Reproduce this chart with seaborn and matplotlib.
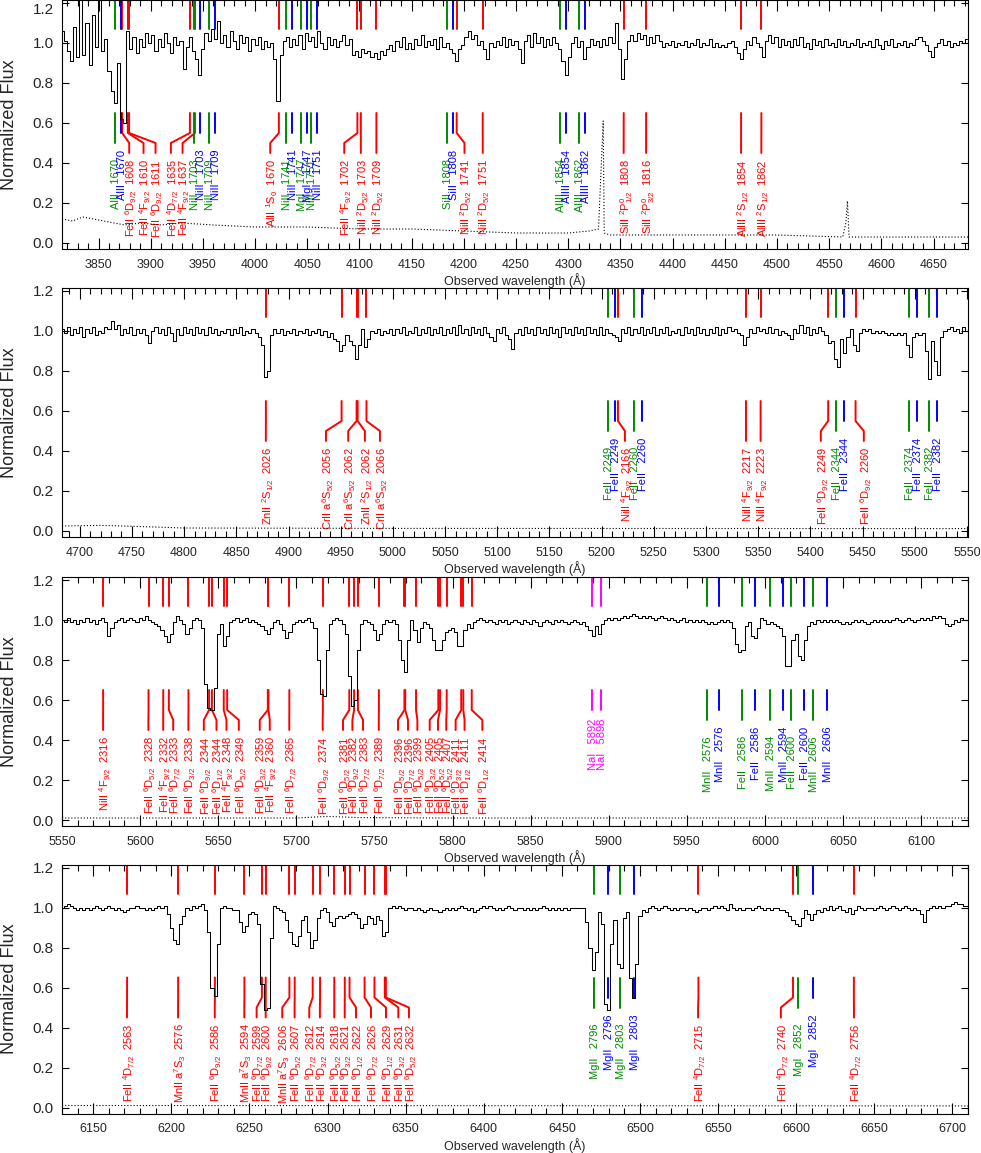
import numpy as np
import matplotlib
matplotlib.use("Agg")
import matplotlib.pyplot as plt
import seaborn as sns
from matplotlib.ticker import MultipleLocator, FormatStrFormatter

# --- Redshifts of the absorbers ---
z_red = 1.4077
z_green = 1.3139
z_blue = 1.3171
z_nai = -0.0004

# --- Spectrum, one flux array per panel (uniform grid from start with given step) ---
flux_a = [
    1.06, 1.01, 0.96, 0.91, 1.08, 0.93, 1.24, 0.94, 1.10, 0.89,
    1.14, 0.98, 1.25, 0.96, 1.02, 0.86, 0.76, 0.70, 0.90, 0.62,
    0.60, 1.06, 0.97, 1.03, 0.95, 1.02, 0.98, 1.05, 1.00, 1.04,
    0.96, 1.02, 0.98, 1.05, 1.00, 0.95, 1.03, 0.99, 1.01, 0.87,
    0.98, 1.03, 0.96, 0.92, 0.84, 0.97, 1.05, 1.01, 1.07, 1.02,
    1.11, 1.00, 1.04, 0.98, 1.06, 1.01, 0.97, 1.04, 1.00, 1.03,
    0.96, 1.02, 0.99, 1.03, 0.97, 1.01, 0.98, 1.00, 0.92, 0.71,
    0.94, 1.01, 1.03, 0.98, 1.02, 0.99, 1.04, 0.97, 1.05, 1.01,
    1.03, 0.98, 1.06, 1.00, 0.97, 1.03, 0.99, 1.02, 0.98, 1.01,
    1.04, 0.99, 1.02, 0.94, 0.96, 0.93, 0.97, 0.95, 0.96, 0.93,
    0.95, 0.92, 0.96, 0.94, 0.97, 0.99, 0.96, 1.01, 0.98, 1.03,
    0.97, 1.00, 0.97, 1.02, 0.99, 1.04, 0.98, 1.01, 0.99, 1.02,
    0.97, 1.03, 0.98, 1.00, 0.97, 0.95, 0.91, 0.97, 0.99, 1.03,
    1.06, 1.02, 1.04, 0.99, 1.01, 0.97, 0.92, 1.00, 0.98, 1.01,
    0.99, 1.03, 0.98, 1.02, 0.99, 1.01, 0.97, 0.90, 1.01, 1.04,
    0.98, 1.05, 1.00, 1.03, 0.98, 1.02, 0.99, 1.03, 1.00, 0.97,
    0.91, 0.84, 0.93, 1.00, 1.03, 0.98, 1.01, 0.92, 0.98, 1.02,
    0.99, 1.01, 0.98, 1.02, 0.99, 1.03, 1.00, 1.10, 0.97, 0.82,
    0.92, 1.01, 1.04, 1.01, 1.05, 1.02, 1.04, 0.99, 1.03, 1.00,
    1.04, 1.01, 0.98, 1.00, 0.99, 1.01, 0.98, 1.00, 0.99, 1.01,
    0.98, 1.00, 0.99, 1.02, 0.98, 1.00, 0.99, 1.02, 0.98, 1.00,
    0.98, 0.99, 0.98, 1.00, 1.01, 0.98, 0.95, 0.92, 0.97, 1.01,
    0.99, 1.03, 1.00, 0.98, 0.93, 1.01, 1.04, 1.00, 1.03, 0.98,
    1.02, 0.99, 1.01, 0.98, 1.02, 0.99, 1.03, 0.98, 1.00, 0.97,
    1.02, 0.99, 1.01, 0.98, 1.02, 0.99, 1.00, 0.98, 1.02, 0.99,
    1.01, 0.98, 1.00, 0.99, 1.02, 0.98, 1.00, 0.99, 1.01, 0.98,
    1.02, 0.99, 0.97, 1.01, 0.99, 1.02, 0.98, 1.00, 0.99, 1.01,
    0.98, 1.00, 0.99, 1.02, 1.03, 1.01, 0.99, 0.96, 0.93, 0.98,
    1.00, 1.02, 0.99, 1.01, 0.98, 1.00, 0.99, 1.01, 1.00, 1.02,
]
flux_b = [
    1.01, 0.99, 1.02, 0.98, 1.01, 0.99, 1.02, 0.97, 1.01, 0.99,
    1.02, 0.98, 1.00, 0.99, 1.02, 1.01, 1.05, 1.01, 1.03, 0.98,
    1.01, 0.99, 1.02, 0.98, 1.01, 0.99, 1.01, 0.98, 0.94, 1.00,
    1.02, 0.99, 1.01, 0.98, 1.02, 0.99, 0.95, 1.01, 0.98, 1.02,
    0.99, 1.01, 0.98, 1.02, 0.99, 1.01, 0.98, 1.02, 0.99, 1.01,
    0.98, 1.00, 0.99, 1.01, 0.98, 1.01, 0.99, 1.02, 0.98, 1.00,
    0.99, 1.01, 0.99, 0.97, 0.93, 0.77, 0.80, 0.98, 1.01, 0.99,
    1.01, 0.98, 1.00, 0.99, 1.01, 0.98, 1.00, 0.99, 1.01, 0.98,
    1.00, 0.99, 1.01, 0.98, 1.00, 0.97, 0.99, 0.96, 0.95, 0.90,
    0.93, 0.98, 0.95, 0.93, 0.86, 0.93, 1.01, 0.92, 0.96, 1.00,
    0.99, 1.01, 0.98, 1.00, 0.99, 1.01, 0.98, 1.01, 0.99, 1.02,
    0.98, 1.00, 0.99, 1.02, 0.98, 1.01, 0.99, 1.02, 0.98, 1.01,
    0.99, 1.02, 0.98, 1.01, 0.99, 1.02, 0.98, 1.03, 0.99, 1.01,
    0.98, 1.02, 0.99, 1.01, 0.98, 1.02, 0.99, 0.97, 0.95, 1.01,
    0.99, 1.02, 0.98, 0.96, 0.91, 0.99, 1.01, 0.98, 1.02, 0.99,
    1.01, 0.98, 1.02, 0.99, 1.01, 0.98, 1.02, 0.99, 1.01, 0.97,
    1.02, 0.99, 1.01, 0.98, 1.02, 0.99, 1.01, 0.98, 1.02, 0.99,
    1.01, 0.98, 1.02, 0.98, 1.01, 0.99, 0.98, 0.97, 0.95, 1.01,
    0.99, 1.02, 0.98, 1.01, 0.99, 1.02, 0.98, 1.01, 0.99, 1.02,
    0.98, 1.01, 0.99, 1.02, 0.98, 1.00, 0.99, 1.01, 0.98, 1.02,
    0.99, 1.01, 0.98, 1.02, 0.99, 1.01, 0.98, 1.01, 0.99, 1.02,
    0.98, 1.01, 0.99, 1.02, 1.00, 1.01, 0.99, 0.98, 0.93, 0.97,
    1.01, 0.99, 1.02, 1.00, 1.01, 0.99, 1.02, 0.99, 1.01, 0.98,
    1.00, 0.99, 0.98, 0.96, 1.01, 0.99, 1.03, 0.99, 1.02, 0.98,
    1.01, 0.99, 1.02, 1.00, 0.98, 0.94, 0.95, 0.86, 0.82, 0.96,
    0.89, 0.97, 1.01, 0.93, 0.90, 0.99, 1.01, 1.00, 1.01, 0.99,
    1.00, 0.99, 1.00, 0.99, 0.98, 0.99, 0.98, 0.99, 0.98, 0.99,
    0.93, 0.87, 0.97, 0.99, 0.98, 0.99, 0.90, 0.76, 0.95, 0.85,
    0.78, 0.97, 1.00, 1.01, 1.02, 1.00, 1.01, 0.99, 1.02, 1.00,
]
flux_c = [
    1.00, 0.99, 1.01, 0.99, 1.00, 0.98, 1.00, 0.99, 1.01, 0.99,
    1.00, 0.98, 1.00, 1.01, 0.99, 0.92, 0.96, 0.99, 1.00, 1.01,
    0.99, 1.00, 1.01, 1.00, 0.99, 1.01, 1.00, 1.02, 1.00, 0.99,
    0.98, 0.97, 0.95, 0.92, 0.89, 0.93, 0.99, 1.02, 1.00, 0.98,
    0.93, 0.96, 1.00, 1.01, 1.00, 0.96, 0.68, 0.56, 0.55, 0.66,
    0.93, 0.98, 0.87, 0.92, 0.99, 1.00, 1.01, 0.99, 1.00, 1.01,
    0.99, 1.00, 0.99, 0.98, 0.97, 0.95, 0.93, 0.96, 0.99, 1.00,
    0.98, 0.95, 0.91, 0.94, 0.98, 0.99, 1.00, 0.99, 1.00, 1.01,
    0.99, 0.96, 0.80, 0.63, 0.62, 0.85, 0.98, 1.00, 1.01, 1.00,
    0.98, 0.93, 0.72, 0.57, 0.60, 0.85, 0.98, 1.00, 0.99, 0.98,
    0.95, 0.90, 0.93, 0.98, 1.00, 0.99, 1.00, 0.98, 0.90, 0.80,
    0.74, 0.90, 1.00, 0.95, 0.89, 0.96, 0.99, 0.98, 0.96, 0.90,
    0.85, 0.85, 0.90, 0.94, 0.95, 0.96, 0.94, 0.87, 0.87, 0.95,
    0.98, 0.96, 0.99, 1.00, 1.01, 1.00, 0.99, 1.00, 0.99, 0.98,
    1.00, 0.99, 1.00, 0.98, 0.99, 1.00, 0.99, 0.98, 1.00, 0.99,
    0.98, 1.00, 0.99, 0.97, 0.99, 1.00, 0.99, 0.98, 1.00, 0.99,
    1.00, 0.99, 0.98, 0.99, 1.00, 0.99, 0.98, 0.99, 0.97, 0.95,
    0.92, 0.97, 0.93, 0.98, 1.00, 1.01, 1.00, 1.01, 1.00, 1.01,
    1.02, 1.01, 1.02, 1.03, 1.02, 1.01, 1.02, 1.01, 1.02, 1.01,
    1.00, 1.01, 1.02, 1.01, 1.00, 1.01, 1.00, 0.99, 1.00, 1.01,
    0.99, 1.00, 0.99, 1.00, 0.99, 1.00, 0.99, 0.98, 0.99, 0.98,
    0.99, 1.00, 0.99, 1.00, 0.99, 0.96, 0.88, 0.84, 0.85, 0.97,
    0.99, 0.92, 0.91, 0.96, 1.01, 1.00, 0.98, 0.99, 0.98, 0.97,
    0.96, 0.92, 0.77, 0.77, 0.90, 0.93, 0.82, 0.80, 0.90, 0.97,
    0.99, 0.98, 1.00, 0.99, 1.00, 0.99, 1.00, 0.99, 1.00, 0.99,
    0.98, 0.99, 0.98, 0.99, 1.00, 0.99, 1.00, 0.99, 0.98, 0.99,
    1.00, 0.99, 1.00, 0.99, 1.00, 0.99, 1.00, 1.01, 1.00, 0.99,
    1.00, 1.01, 1.00, 0.99, 1.00, 1.01, 1.00, 1.01, 1.00, 1.02,
    1.01, 1.02, 1.01, 0.98, 0.97, 0.98, 1.00, 0.99, 1.01, 1.00,
    1.00,
]
flux_d = [
    1.00, 1.01, 1.02, 1.01, 1.00, 0.99, 1.00, 0.99, 1.00, 0.99,
    1.00, 1.01, 1.00, 0.99, 1.00, 1.01, 1.00, 0.99, 1.00, 0.99,
    0.98, 0.99, 1.00, 1.00, 1.01, 1.00, 1.00, 0.99, 1.00, 0.99,
    1.00, 1.01, 1.00, 1.01, 0.97, 0.90, 0.84, 0.82, 0.92, 0.96,
    1.00, 0.99, 1.01, 1.00, 1.01, 1.02, 0.99, 0.88, 0.60, 0.56,
    0.82, 1.00, 1.01, 1.00, 1.00, 0.99, 0.99, 0.93, 0.88, 0.91,
    0.97, 0.98, 0.97, 0.92, 0.62, 0.49, 0.50, 0.85, 1.01, 1.00,
    0.99, 0.98, 0.94, 0.88, 0.82, 0.81, 0.86, 0.94, 0.96, 0.88,
    0.80, 0.84, 0.95, 0.99, 1.00, 0.98, 0.93, 0.91, 0.95, 0.96,
    0.95, 0.96, 0.97, 0.98, 0.97, 0.95, 0.90, 0.92, 0.96, 0.95,
    0.92, 0.96, 0.94, 0.86, 0.88, 1.00, 1.01, 1.00, 1.01, 1.00,
    0.99, 1.00, 1.00, 0.99, 1.00, 0.99, 0.98, 0.99, 1.00, 0.99,
    0.99, 0.98, 0.99, 1.00, 0.99, 1.00, 0.99, 1.00, 1.01, 1.00,
    0.99, 1.00, 0.98, 0.99, 1.00, 1.01, 1.00, 1.01, 1.00, 0.99,
    1.00, 0.99, 1.00, 1.01, 1.00, 0.99, 1.00, 1.00, 0.99, 1.00,
    0.99, 1.00, 0.99, 1.00, 1.01, 1.00, 0.99, 1.00, 0.99, 1.00,
    0.99, 1.00, 0.99, 1.00, 1.00, 1.00, 1.00, 1.00, 0.93, 0.80,
    0.69, 0.78, 0.98, 0.92, 0.52, 0.49, 0.82, 0.94, 0.72, 0.70,
    0.95, 0.98, 0.65, 0.55, 0.72, 0.96, 0.99, 0.98, 1.00, 1.01,
    1.00, 0.99, 1.00, 1.01, 1.00, 0.99, 1.00, 0.99, 1.00, 1.00,
    0.99, 1.00, 0.99, 0.98, 0.99, 1.00, 1.00, 0.99, 1.00, 1.01,
    1.00, 1.01, 1.00, 0.99, 1.02, 1.00, 0.99, 1.00, 0.99, 1.00,
    1.00, 0.99, 1.00, 1.01, 1.00, 0.99, 1.00, 0.99, 1.00, 1.00,
    0.99, 0.99, 0.98, 0.96, 0.94, 0.92, 0.91, 0.95, 0.99, 0.97,
    0.94, 0.97, 0.99, 0.98, 1.00, 0.99, 1.01, 0.99, 1.00, 1.01,
    0.99, 0.98, 1.00, 0.97, 0.99, 1.01, 1.00, 0.99, 1.00, 1.00,
    0.99, 1.00, 1.01, 1.00, 0.99, 1.00, 1.01, 1.00, 0.99, 1.00,
    1.01, 1.00, 0.99, 1.00, 0.99, 0.97, 0.93, 0.99, 1.00, 1.01,
    1.00, 1.01, 1.00, 1.01, 1.01, 1.02, 1.03, 1.02, 1.02, 1.01,
    1.01,
]

# --- Error spectrum (knots) ---
err_wave_a = [3815, 3825, 3835, 3845, 3855, 3865, 3875, 3890, 3910, 3930, 3960, 4000,
              4050, 4100, 4150, 4200, 4250, 4300, 4320, 4329, 4333.5, 4334.5, 4340,
              4400, 4500, 4563, 4566, 4567.5, 4569, 4600, 4683]
err_a = [0.12, 0.11, 0.13, 0.12, 0.11, 0.10, 0.09, 0.10, 0.09, 0.10, 0.09, 0.08,
         0.08, 0.07, 0.07, 0.06, 0.05, 0.05, 0.06, 0.07, 0.61, 0.05, 0.04,
         0.04, 0.04, 0.03, 0.10, 0.21, 0.03, 0.03, 0.03]
err_wave_b = [4683, 4720, 4760, 4800, 5000, 5551]
err_b = [0.025, 0.028, 0.022, 0.015, 0.013, 0.012]
err_wave_c = [5550, 5700, 5720, 5740, 5800, 6130]
err_c = [0.010, 0.010, 0.018, 0.012, 0.010, 0.010]
err_wave_d = [6130, 6710]
err_d = [0.010, 0.008]

# --- Intervening systems (green z=1.3139, blue z=1.3171) share one line list ---
mg_ion = ["AlII", "NiII", "NiII", "NiII", "MgI", "NiII", "SiII", "AlIII", "AlIII",
          "FeII", "FeII", "FeII", "FeII", "FeII",
          "MnII", "FeII", "MnII", "FeII", "MnII", "MgII", "MgII", "MgI"]
mg_rest = [1670.79, 1703.41, 1709.60, 1741.55, 1747.79, 1751.91, 1808.01, 1854.72, 1862.79,
           2249.88, 2260.78, 2344.21, 2374.46, 2382.77,
           2576.88, 2586.65, 2594.50, 2600.17, 2606.46, 2796.35, 2803.53, 2852.96]

# --- Host system (red, z=1.4077): ion, term, rest wavelength, label position (obs. A) ---
red_ion = ["FeII", "FeII", "FeII", "FeII", "FeII", "AlII", "FeII", "NiII", "NiII", "NiII",
           "NiII", "SiII", "SiII", "AlIII", "AlIII",
           "ZnII", "CrII", "CrII", "ZnII", "CrII", "NiII", "NiII", "NiII", "FeII", "FeII",
           "NiII", "FeII", "FeII", "FeII", "FeII", "FeII", "FeII", "FeII", "FeII", "FeII",
           "FeII", "FeII", "FeII", "FeII", "FeII", "FeII", "FeII", "FeII", "FeII", "FeII",
           "FeII", "FeII", "FeII", "FeII", "FeII", "FeII",
           "FeII", "MnII", "FeII", "MnII", "FeII", "FeII", "MnII", "FeII", "FeII", "FeII",
           "FeII", "FeII", "FeII", "FeII", "FeII", "FeII", "FeII", "FeII", "FeII", "FeII"]
red_term = ["6D9", "4F9", "6D9", "4D7", "4F9", "1S0", "4F9", "2D5", "2D5", "2D5",
            "2D5", "2P1", "2P3", "2S1", "2S1",
            "2S1", "a6S5", "a6S5", "2S1", "a6S5", "4F9", "4F9", "4F9", "6D9", "6D9",
            "4F9", "6D5", "4F9", "6D7", "6D3", "6D9", "6D1", "4F9", "6D5", "6D3",
            "4F9", "6D7", "6D9", "6D5", "6D9", "6D7", "6D7", "6D5", "6D7", "6D5",
            "6D3", "6D5", "6D5", "6D3", "6D1", "6D1",
            "4D7", "a7S3", "6D9", "a7S3", "6D7", "6D9", "a7S3", "6D5", "6D7", "6D3",
            "6D5", "6D3", "6D1", "6D7", "6D1", "6D3", "6D5", "4D7", "4D7", "4D7"]
red_rest = [1608.45, 1610.70, 1611.20, 1635.40, 1637.40, 1670.79, 1702.04, 1703.41, 1709.60, 1741.55,
            1751.91, 1808.01, 1816.93, 1854.72, 1862.79,
            2026.14, 2056.26, 2062.23, 2062.66, 2066.16, 2166.23, 2217.17, 2223.00, 2249.88, 2260.78,
            2316.04, 2328.11, 2332.02, 2333.52, 2338.73, 2344.21, 2344.97, 2348.11, 2349.02, 2359.83,
            2360.00, 2365.55, 2374.46, 2381.49, 2382.77, 2383.79, 2389.36, 2396.15, 2396.36, 2399.24,
            2405.16, 2405.62, 2407.39, 2411.25, 2411.80, 2414.05,
            2563.30, 2576.88, 2586.65, 2594.50, 2599.15, 2600.17, 2606.46, 2607.87, 2612.65, 2614.61,
            2618.40, 2621.19, 2622.45, 2626.45, 2629.08, 2631.83, 2632.11, 2715.22, 2740.36, 2756.55]
red_label_at = [3879.4, 3893.1, 3904.6, 3919.3, 3930.5, 4014.5, 4085.4, 4101.3, 4116.2, 4200.6,
                4218.1, 4353.1, 4374.6, 4465.6, 4485.0,
                4878.3, 4935.9, 4957.2, 4973.2, 4987.6, 5222.3, 5338.3, 5352.3, 5410.0, 5451.2,
                5576.3, 5605.3, 5614.8, 5621.2, 5630.9, 5640.8, 5648.9, 5655.3, 5663.2, 5676.6,
                5683.0, 5695.5, 5716.9, 5729.9, 5735.9, 5742.7, 5752.8, 5765.1, 5771.5, 5777.5,
                5785.4, 5790.7, 5796.0, 5802.0, 5807.7, 5819.1,
                6171.6, 6204.3, 6227.8, 6246.7, 6254.6, 6260.4, 6271.0, 6278.9, 6288.3, 6295.1,
                6304.3, 6311.0, 6318.2, 6327.8, 6337.4, 6345.3, 6352.1, 6537.2, 6590.2, 6637.0]

# --- Galactic NaI ---
nai_rest = [5891.58, 5897.56]
nai_num = ["5892", "5898"]

# --- Panel ranges ---
panel_lo = [3815, 4683, 5550, 6130]
panel_hi = [4683, 5551, 6130, 6710]
panel_step = [3.0, 3.0, 2.0, 2.0]
panel_flux = [flux_a, flux_b, flux_c, flux_d]
panel_err_wave = [err_wave_a, err_wave_b, err_wave_c, err_wave_d]
panel_err = [err_a, err_b, err_c, err_d]

RED, GREEN, BLUE, MAGENTA = "#ff0000", "#008a00", "#0000ff", "#ff00ff"
LW = 1.4
FS = 8


def term_tex(code):
    # "6D9" -> ^6D_{9/2};  "a7S3" -> a^7S_3;  "2P1" -> ^2P^0_{1/2};  "1S0" -> ^1S_0
    pre = ""
    if code[0] == "a":
        pre, code = "a", code[1:]
    mult, let, j = code[0], code[1], code[2]
    if let == "P":
        return rf"$^{{{mult}}}$P$^{{0}}_{{{j}/2}}$"
    if j in "03" and let == "S" and mult in "17":
        return rf"{pre}$^{{{mult}}}$S$_{{{j}}}$"
    return rf"{pre}$^{{{mult}}}${let}$_{{{j}/2}}$"


def top_mark(ax, x, color):
    ax.plot([x, x], [1.07, 1.3], color=color, lw=LW, zorder=2)


def label(ax, x, y, text, color):
    ax.text(x, y, text, rotation=90, rotation_mode="anchor", ha="right",
            va="center_baseline", color=color, fontsize=FS, zorder=2)


sns.set_style("ticks")
plt.rcParams["font.family"] = ["Liberation Sans", "DejaVu Sans"]
plt.rcParams["mathtext.fontset"] = "custom"
plt.rcParams["mathtext.rm"] = "Liberation Sans"
plt.rcParams["mathtext.it"] = "Liberation Sans:italic"
plt.rcParams["mathtext.bf"] = "Liberation Sans:bold"

fig = plt.figure(figsize=(9.81, 11.53), dpi=100)
tops_px = [0, 288, 577, 864.5]
H = 1153.0

for p in range(4):
    lo, hi = panel_lo[p], panel_hi[p]
    ax = fig.add_axes([62 / 981, 1 - (tops_px[p] + 249) / H, 906 / 981, 249 / H])

    # host system markers
    for ion, term, w, lab in zip(red_ion, red_term, red_rest, red_label_at):
        obs = w * (1 + z_red)
        if not lo < obs < hi:
            continue
        top_mark(ax, obs, RED)
        ax.plot([obs, obs, lab, lab], [0.65, 0.55, 0.50, 0.45], color=RED, lw=LW, zorder=2)
        label(ax, lab, 0.42, f"{ion} {term_tex(term)}  {int(w)}", RED)

    # intervening systems
    for z, color, y_end, y_txt in [(z_green, GREEN, 0.50, 0.42), (z_blue, BLUE, 0.55, 0.467)]:
        for ion, w in zip(mg_ion, mg_rest):
            obs = w * (1 + z)
            if not lo < obs < hi:
                continue
            top_mark(ax, obs, color)
            ax.plot([obs, obs], [0.65, y_end], color=color, lw=LW, zorder=2)
            label(ax, obs, y_txt, f"{ion}   {int(w)}", color)

    for w, num in zip(nai_rest, nai_num):
        obs = w * (1 + z_nai)
        if not lo < obs < hi:
            continue
        top_mark(ax, obs, MAGENTA)
        ax.plot([obs, obs], [0.65, 0.55], color=MAGENTA, lw=LW, zorder=2)
        label(ax, obs, 0.505, f"NaI   {num}", MAGENTA)

    # spectrum and error
    flux = np.array(panel_flux[p])
    wave = lo + panel_step[p] * np.arange(len(flux))
    sns.lineplot(x=wave, y=flux, ax=ax, color="black", lw=0.75, drawstyle="steps-mid",
                 estimator=None, zorder=3)
    sns.lineplot(x=panel_err_wave[p], y=panel_err[p], ax=ax, color="black", lw=0.8,
                 linestyle=(0, (1, 1.8)), estimator=None, zorder=3)

    ax.set_xlim(lo, hi)
    ax.set_ylim(-0.03, 1.215)
    ax.xaxis.set_major_locator(MultipleLocator(50))
    ax.xaxis.set_minor_locator(MultipleLocator(10))
    ax.yaxis.set_major_locator(MultipleLocator(0.2))
    ax.yaxis.set_major_formatter(FormatStrFormatter("%.1f"))
    ax.tick_params(which="both", direction="in", top=True, right=True, color="black", width=0.8)
    ax.tick_params(axis="x", which="major", length=8, labelsize=9, pad=7)
    ax.tick_params(axis="x", which="minor", length=4)
    ax.tick_params(axis="y", which="major", length=5, labelsize=11, pad=6)
    for s in ax.spines.values():
        s.set_color("black")
        s.set_linewidth(0.8)
    ax.set_xlabel("Observed wavelength (Å)", fontsize=9, labelpad=2)
    ax.set_ylabel("Normalized Flux", fontsize=13)
    ax.yaxis.set_label_coords(-0.049, 0.5)

    if p == 0:
        # keep the topmost tick label inside the figure
        fig.canvas.draw()
        for t in ax.get_yticklabels():
            if t.get_text() == "1.2":
                t.set_verticalalignment("top")

fig.savefig("out.png", dpi=100)
